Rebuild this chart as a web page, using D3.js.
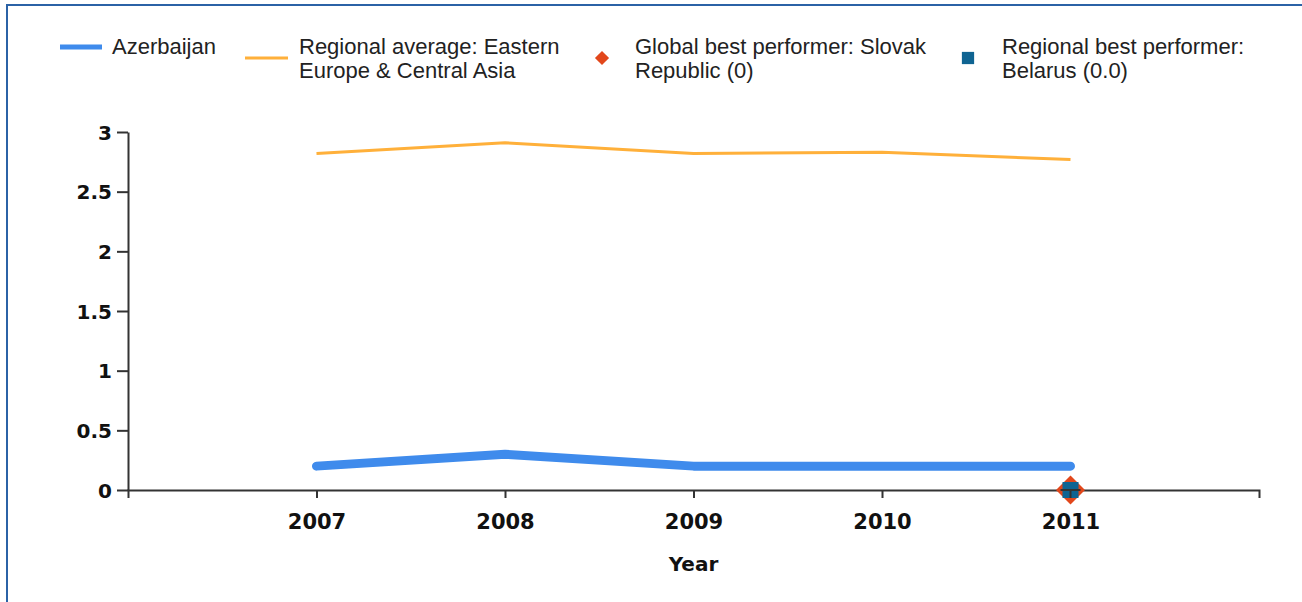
<!DOCTYPE html>
<html><head><meta charset="utf-8">
<script src="https://cdn.jsdelivr.net/npm/d3@7"></script>
<style>
html,body{margin:0;padding:0;background:#fff;}
svg{display:block;}
</style></head>
<body>
<script>
const years = [2007, 2008, 2009, 2010, 2011];
const azerbaijan = [0.2, 0.3, 0.2, 0.2, 0.2];
const regionalAverage = [2.82, 2.91, 2.82, 2.83, 2.77];
const globalBest = [{year: 2011, value: 0}];
const regionalBest = [{year: 2011, value: 0}];
const yTicks = [0, 0.5, 1, 1.5, 2, 2.5, 3];
const yTickLabels = ["0", "0.5", "1", "1.5", "2", "2.5", "3"];
const legendLabels = [
  ["Azerbaijan"],
  ["Regional average: Eastern", "Europe & Central Asia"],
  ["Global best performer: Slovak", "Republic (0)"],
  ["Regional best performer:", "Belarus (0.0)"]
];
const xTitle = "Year";

const W = 1302, H = 602;
const C = {blue: "#3f8bec", orange: "#ffb03a", red: "#e2471b", teal: "#0f6492", axis: "#333333", border: "#2b62a6"};

const svg = d3.select("body").append("svg").attr("width", W).attr("height", H);

// border
svg.append("line").attr("x1", 6).attr("x2", W).attr("y1", 5).attr("y2", 5).attr("stroke", C.border).attr("stroke-width", 2);
svg.append("line").attr("x1", 7).attr("x2", 7).attr("y1", 4).attr("y2", H).attr("stroke", C.border).attr("stroke-width", 2);

const x = d3.scaleLinear().domain([2006, 2012]).range([128, 1259]);
const y = d3.scaleLinear().domain([0, 3]).range([490, 132]);

const tickFont = "'DejaVu Sans', Verdana, sans-serif";

// y axis
const yAxis = svg.append("g").attr("transform", `translate(${x(2006)},0)`)
  .call(d3.axisLeft(y).tickValues(yTicks).tickFormat((d, i) => yTickLabels[i]).tickSize(11).tickSizeOuter(0).tickPadding(5));
yAxis.select(".domain").attr("stroke", C.axis).attr("stroke-width", 2);
yAxis.selectAll(".tick line").attr("stroke", C.axis).attr("stroke-width", 2);
yAxis.selectAll(".tick text").attr("font-family", tickFont).attr("font-weight", "bold").attr("font-size", 20).attr("fill", "#111").attr("dy", "0.36em");

// x axis
const xAxis = svg.append("g").attr("transform", `translate(0,${y(0)})`)
  .call(d3.axisBottom(x).tickValues(years).tickFormat(d3.format("d")).tickSize(8).tickSizeOuter(8).tickPadding(16));
xAxis.select(".domain").attr("stroke", C.axis).attr("stroke-width", 2);
xAxis.selectAll(".tick line").attr("stroke", C.axis).attr("stroke-width", 2);
xAxis.selectAll(".tick text").attr("font-family", tickFont).attr("font-weight", "bold").attr("font-size", 21).attr("fill", "#111");

svg.append("text").attr("x", (x(2006) + x(2012)) / 2).attr("y", 571).attr("text-anchor", "middle")
  .attr("font-family", tickFont).attr("font-weight", "bold").attr("font-size", 20).attr("fill", "#111").text(xTitle);

// lines
const line = d3.line().x((d, i) => x(years[i])).y(d => y(d));
svg.append("path").datum(regionalAverage).attr("d", line).attr("fill", "none").attr("stroke", C.orange).attr("stroke-width", 3).attr("stroke-linejoin", "round");
svg.append("path").datum(azerbaijan).attr("d", line).attr("fill", "none").attr("stroke", C.blue).attr("stroke-width", 9).attr("stroke-linecap", "round").attr("stroke-linejoin", "round");

// markers
svg.selectAll(".gb").data(globalBest).enter().append("path")
  .attr("d", d3.symbol(d3.symbolSquare, 420)())
  .attr("transform", d => `translate(${x(d.year)},${y(d.value)}) rotate(45)`)
  .attr("fill", C.red);
svg.selectAll(".rb").data(regionalBest).enter().append("path")
  .attr("d", d3.symbol(d3.symbolSquare, 256)())
  .attr("transform", d => `translate(${x(d.year)},${y(d.value)})`)
  .attr("fill", C.teal);
// tick drawn over marker like reference
svg.append("line").attr("x1", x(2011)).attr("x2", x(2011)).attr("y1", y(0)).attr("y2", y(0) + 8).attr("stroke", C.axis).attr("stroke-width", 2);
svg.append("line").attr("x1", x(2011) - 10).attr("x2", x(2011) + 10).attr("y1", y(0)).attr("y2", y(0)).attr("stroke", C.axis).attr("stroke-width", 2);

// legend
const legFont = "'Liberation Sans', Arial, sans-serif";
const legX = [112, 299, 635, 1002];
const lg = svg.append("g");
legendLabels.forEach((lines, i) => {
  const t = lg.append("text").attr("x", legX[i]).attr("y", 54).attr("font-family", legFont).attr("font-size", 22).attr("fill", "#222");
  lines.forEach((s, j) => t.append("tspan").attr("x", legX[i]).attr("dy", j === 0 ? 0 : 24).text(s));
});
lg.append("line").attr("x1", 60).attr("x2", 102).attr("y1", 47).attr("y2", 47).attr("stroke", C.blue).attr("stroke-width", 5);
lg.append("line").attr("x1", 245).attr("x2", 288).attr("y1", 58).attr("y2", 58).attr("stroke", C.orange).attr("stroke-width", 3);
lg.append("path").attr("d", d3.symbol(d3.symbolSquare, 100)()).attr("transform", "translate(602,58) rotate(45)").attr("fill", C.red);
lg.append("path").attr("d", d3.symbol(d3.symbolSquare, 150)()).attr("transform", "translate(968,58)").attr("fill", C.teal);
</script>
</body></html>
